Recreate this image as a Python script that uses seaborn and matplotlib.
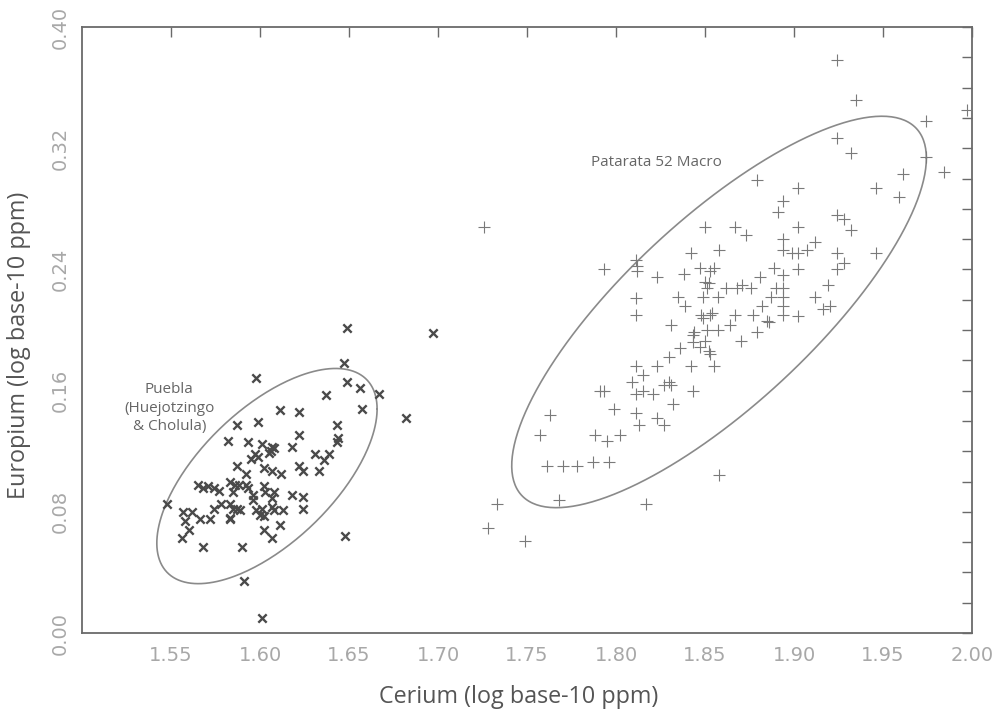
import numpy as np
import pandas as pd
import matplotlib
matplotlib.use("Agg")
import matplotlib.pyplot as plt
import seaborn as sns

# ---------------- data ----------------
puebla_ce = [1.649, 1.647, 1.598, 1.649, 1.656, 1.667, 1.637, 1.657, 1.611, 1.622,
             1.682, 1.587, 1.599, 1.643, 1.622, 1.582, 1.593, 1.601, 1.607, 1.606,
             1.608, 1.644, 1.643, 1.618, 1.631, 1.639, 1.636, 1.597, 1.595, 1.599,
             1.587, 1.592, 1.602, 1.607, 1.612, 1.622, 1.624, 1.633, 1.565, 1.568,
             1.571, 1.574, 1.577, 1.583, 1.585, 1.588, 1.592, 1.593, 1.602, 1.603,
             1.596, 1.596, 1.608, 1.607, 1.618, 1.624, 1.548, 1.557, 1.562, 1.566,
             1.572, 1.574, 1.578, 1.583, 1.585, 1.583, 1.587, 1.589, 1.601, 1.602,
             1.607, 1.608, 1.613, 1.624, 1.611, 1.602, 1.607, 1.558, 1.560, 1.556,
             1.568, 1.590, 1.648, 1.591, 1.601, 1.697, 1.605, 1.598, 1.600, 1.583,
             1.586]
puebla_eu = [0.201, 0.178, 0.168, 0.166, 0.162, 0.158, 0.157, 0.148, 0.147, 0.146,
             0.142, 0.137, 0.139, 0.137, 0.131, 0.127, 0.126, 0.125, 0.123, 0.120,
             0.122, 0.129, 0.126, 0.123, 0.118, 0.118, 0.114, 0.118, 0.115, 0.116,
             0.110, 0.105, 0.109, 0.107, 0.105, 0.110, 0.107, 0.107, 0.098, 0.096,
             0.097, 0.096, 0.094, 0.100, 0.093, 0.098, 0.098, 0.096, 0.097, 0.093,
             0.091, 0.088, 0.093, 0.089, 0.091, 0.090, 0.085, 0.080, 0.080, 0.075,
             0.075, 0.082, 0.085, 0.085, 0.082, 0.076, 0.082, 0.081, 0.082, 0.077,
             0.083, 0.081, 0.081, 0.082, 0.071, 0.068, 0.063, 0.074, 0.068, 0.063,
             0.057, 0.057, 0.064, 0.034, 0.010, 0.198, 0.119, 0.081, 0.078, 0.075,
             0.098]

patarata_ce = [1.726, 1.793, 1.811, 1.812, 1.812, 1.823, 1.838, 1.847, 1.853, 1.855,
               1.850, 1.851, 1.850, 1.867, 1.873, 1.842, 1.858, 1.862, 1.868, 1.871,
               1.876, 1.881, 1.811, 1.811, 1.835, 1.839, 1.849, 1.857, 1.848, 1.849,
               1.853, 1.867, 1.877, 1.882, 1.831, 1.843, 1.844, 1.843, 1.847, 1.851,
               1.857, 1.850, 1.852, 1.853, 1.864, 1.870, 1.879, 1.836, 1.830, 1.811,
               1.823, 1.842, 1.855, 1.815, 1.809, 1.811, 1.815, 1.821, 1.827, 1.830,
               1.831, 1.843, 1.791, 1.793, 1.832, 1.799, 1.811, 1.813, 1.823, 1.827,
               1.763, 1.757, 1.788, 1.795, 1.802, 1.761, 1.770, 1.778, 1.787, 1.796,
               1.768, 1.858, 1.733, 1.728, 1.749, 1.817,
               1.924, 1.935, 1.997, 1.974, 1.924, 1.932, 1.974, 1.961, 1.984, 1.946,
               1.959, 1.879, 1.902, 1.894, 1.891, 1.902, 1.924, 1.928, 1.932, 1.894,
               1.894, 1.899, 1.902, 1.907, 1.912, 1.924, 1.946, 1.902, 1.924, 1.928,
               1.889, 1.894, 1.890, 1.894, 1.894, 1.887, 1.894, 1.894, 1.886, 1.902,
               1.912, 1.919, 1.916, 1.920, 1.852, 1.854, 1.885]
patarata_eu = [0.268, 0.240, 0.246, 0.242, 0.239, 0.235, 0.237, 0.241, 0.239, 0.241,
               0.232, 0.228, 0.268, 0.268, 0.263, 0.251, 0.253, 0.228, 0.228, 0.230,
               0.228, 0.235, 0.221, 0.210, 0.222, 0.216, 0.222, 0.222, 0.210, 0.208,
               0.210, 0.210, 0.210, 0.216, 0.203, 0.197, 0.199, 0.192, 0.189, 0.200,
               0.200, 0.193, 0.186, 0.184, 0.203, 0.193, 0.199, 0.188, 0.182, 0.176,
               0.176, 0.176, 0.176, 0.170, 0.166, 0.158, 0.160, 0.158, 0.164, 0.166,
               0.164, 0.160, 0.160, 0.160, 0.151, 0.148, 0.145, 0.137, 0.142, 0.137,
               0.144, 0.131, 0.131, 0.127, 0.131, 0.110, 0.110, 0.110, 0.113, 0.113,
               0.088, 0.104, 0.085, 0.069, 0.061, 0.085,
               0.378, 0.352, 0.345, 0.338, 0.327, 0.317, 0.314, 0.303, 0.304, 0.294,
               0.288, 0.299, 0.294, 0.285, 0.278, 0.268, 0.276, 0.273, 0.266, 0.260,
               0.253, 0.251, 0.251, 0.253, 0.258, 0.251, 0.251, 0.240, 0.240, 0.244,
               0.241, 0.236, 0.228, 0.228, 0.222, 0.222, 0.216, 0.210, 0.205, 0.209,
               0.222, 0.230, 0.214, 0.216, 0.231, 0.211, 0.206]

x_ticks = [1.55, 1.60, 1.65, 1.70, 1.75, 1.80, 1.85, 1.90, 1.95, 2.00]
x_tick_labels = ["1.55", "1.60", "1.65", "1.70", "1.75", "1.80", "1.85", "1.90", "1.95", "2.00"]
y_ticks = [0.00, 0.08, 0.16, 0.24, 0.32, 0.40]
y_tick_labels = ["0.00", "0.08", "0.16", "0.24", "0.32", "0.40"]

df = pd.concat([
    pd.DataFrame({"ce": puebla_ce, "eu": puebla_eu, "group": "Puebla"}),
    pd.DataFrame({"ce": patarata_ce, "eu": patarata_eu, "group": "Patarata"}),
], ignore_index=True)

# ---------------- style ----------------
sns.set_theme(style="white")
plt.rcParams["font.family"] = ["DejaVu Sans"]

fig = plt.figure(figsize=(10.04, 7.11), dpi=100)
fig.patch.set_facecolor("white")
ax = fig.add_axes([0.0817, 0.1097, 0.8865, 0.8523])
ax.set_facecolor("white")

sns.scatterplot(data=df[df.group == "Puebla"], x="ce", y="eu", marker="x",
                s=36, color="#4a4a4a", linewidth=1.7, ax=ax, legend=False, zorder=3)
sns.scatterplot(data=df[df.group == "Patarata"], x="ce", y="eu", marker="+",
                s=70, color="#7a7a7a", linewidth=0.8, ax=ax, legend=False, zorder=3)


def conf_ellipse(x, y, k, n=300):
    x = np.asarray(x); y = np.asarray(y)
    cov = np.cov(x, y)
    L = np.linalg.cholesky(cov)
    t = np.linspace(0, 2 * np.pi, n)
    pts = k * (L @ np.vstack([np.cos(t), np.sin(t)]))
    return pts[0] + x.mean(), pts[1] + y.mean()


K90 = np.sqrt(4.605)  # 90% confidence ellipse
for g in ["Puebla", "Patarata"]:
    sub = df[df.group == g]
    ex, ey = conf_ellipse(sub.ce, sub.eu, K90)
    ax.plot(ex, ey, color="#8a8a8a", lw=1.2, zorder=2)

ax.set_xlim(1.50, 2.00)
ax.set_ylim(0.00, 0.40)
ax.set_xticks(x_ticks)
ax.set_xticklabels(x_tick_labels)
ax.set_yticks(y_ticks)
ax.set_yticklabels(y_tick_labels, rotation=90, va="center")
ax.set_yticks(np.arange(0, 0.401, 0.02), minor=True)

ax.tick_params(which="both", direction="in", length=7, width=1.0, color="#6a6a6a",
               top=True, right=True, labelsize=14, labelcolor="#a8a8a8")
ax.tick_params(axis="x", pad=9)
ax.tick_params(axis="y", pad=9)
for s in ax.spines.values():
    s.set_color("#6a6a6a")
    s.set_linewidth(1.3)

lab_font = dict(family=["Open Sans", "DejaVu Sans"], size=16.8, color="#555555")
ax.set_xlabel("Cerium (log base-10 ppm)", **lab_font)
ax.set_ylabel("Europium (log base-10 ppm)", **lab_font)
ax.xaxis.set_label_coords(0.490, -0.085)
ax.yaxis.set_label_coords(-0.057, 0.475)

ann_font = dict(family=["Open Sans", "DejaVu Sans"], size=11, color="#666666")
ax.text(1.8225, 0.3109, "Patarata 52 Macro", ha="center", va="center", **ann_font)
ax.text(1.549, 0.1485, "Puebla\n(Huejotzingo\n& Cholula)", ha="center", va="center",
        linespacing=1.35, **ann_font)

fig.savefig("out.png", dpi=100)
